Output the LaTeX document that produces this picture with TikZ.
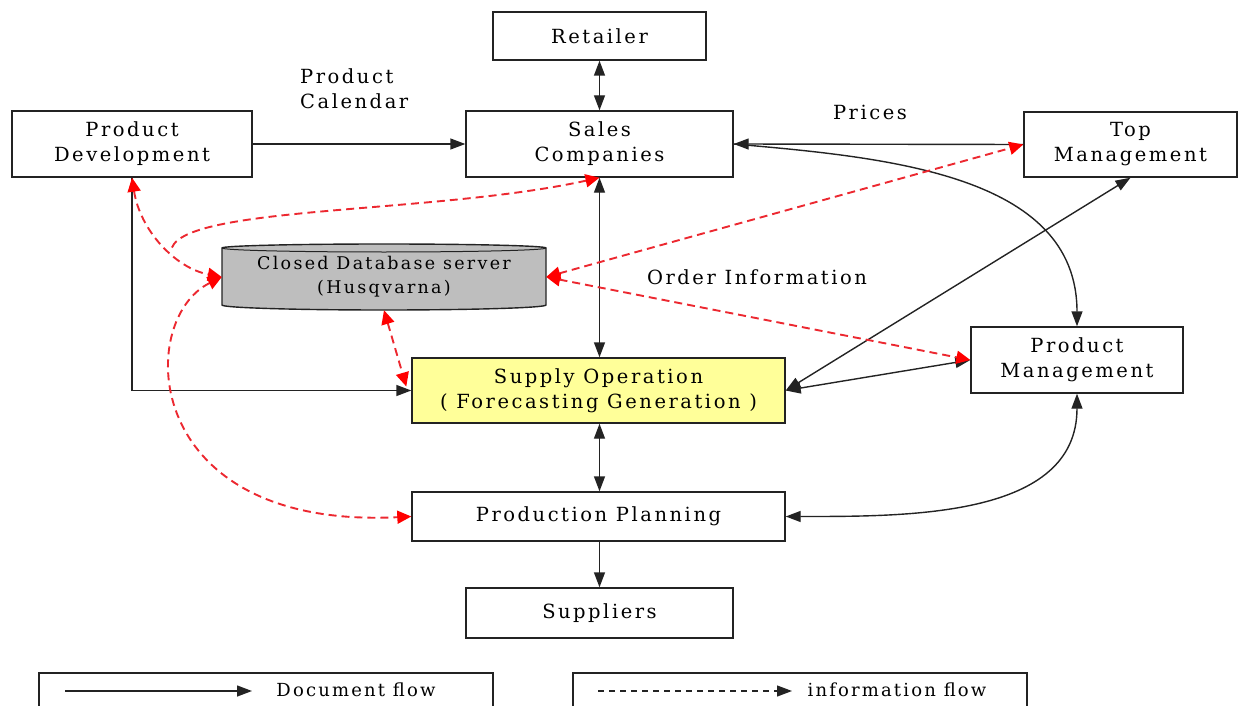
\documentclass[tikz,border=0pt]{standalone}
\usepackage{fontspec}
\setmainfont{DejaVu Serif}[LetterSpace=13]
\newfontfamily\legendfont{DejaVu Serif}[LetterSpace=12]
\usetikzlibrary{arrows.meta,calc}
\definecolor{infored}{RGB}{236,40,48}
\definecolor{tipred}{RGB}{255,0,0}
\definecolor{supplyyellow}{RGB}{255,255,153}
\definecolor{dbgray}{RGB}{190,190,190}
\definecolor{linegray}{RGB}{35,35,35}

\begin{document}
\begin{tikzpicture}[x=1pt,y=-1pt,
  font=\fontsize{19.5}{25}\selectfont,
  box/.style={draw=linegray, line width=1.4pt, rectangle, align=center, inner sep=0pt},
  label/.style={inner sep=0pt, align=left},
  doc/.style={draw=linegray, line width=1.4pt, -{Triangle[length=15pt,width=11pt]}},
  docboth/.style={draw=linegray, line width=1.4pt, {Triangle[length=15pt,width=11pt]}-{Triangle[length=15pt,width=11pt]}},
  info/.style={draw=infored, line width=1.9pt, dash pattern=on 8pt off 5pt},
  infoboth/.style={info, {Triangle[length=14pt,width=13pt,color=tipred]}-{Triangle[length=14pt,width=13pt,color=tipred]}},
  infostart/.style={info, {Triangle[length=14pt,width=13pt,color=tipred]}-},
  legendbox/.style={draw=linegray, line width=1.3pt},
  legendtext/.style={inner sep=0pt, font=\legendfont\fontsize{18}{22}\selectfont},
]
\useasboundingbox (0,0) rectangle (1248,706);

% ---- main blocks ----
\node[box, minimum width=213pt, minimum height=48pt] (ret) at (599.5,36) {Retailer};
\node[box, minimum width=267pt, minimum height=66pt] (sc) at (599.5,144) {Sales\\Companies};
\node[box, minimum width=240pt, minimum height=66pt] (pd) at (132,144) {Product\\Development};
\node[box, minimum width=213pt, minimum height=65pt] (tm) at (1130.5,144.5) {Top\\Management};
\node[box, fill=supplyyellow, minimum width=373pt, minimum height=65pt] (so) at (598.5,390.5)
  {Supply Operation\\( Forecasting Generation )};
\node[box, minimum width=212pt, minimum height=66pt] (pm) at (1077,360) {Product\\Management};
\node[box, minimum width=373pt, minimum height=49pt] (pp) at (598.5,516.5) {Production Planning};
\node[box, minimum width=267pt, minimum height=50pt] (sup) at (599.5,613) {Suppliers};

% ---- database cylinder ----
\draw[draw=linegray, line width=1.4pt, fill=dbgray]
  (222,248) -- (222,305) arc[start angle=180, end angle=360, x radius=162pt, y radius=5pt]
  -- (546,248) arc[start angle=0, end angle=180, x radius=162pt, y radius=4pt] -- cycle;
\draw[draw=linegray, line width=1pt]
  (222,248) arc[start angle=180, end angle=360, x radius=162pt, y radius=4pt];
\node[inner sep=0pt, align=center, minimum width=324pt, minimum height=66pt,
      font=\fontsize{17.5}{24}\selectfont] (db) at (384,277)
  {Closed Database server\\(Husqvarna)};

% ---- edge labels ----
\node[label, anchor=west] (calendar) at (300,89) {Product\\Calendar};
\node[label] (prices) at (870,112) {Prices};
\node[label] (orderinfo) at (757,277) {Order Information};

% ---- document flow ----
\draw[docboth] (ret.south) -- (sc.north);
\draw[doc] (pd.east) -- (sc.west);
\draw[doc] (tm.west) -- (sc.east);
\draw[doc] (sc.east) to[out=-5, in=90] (pm.north);
\draw[docboth] (sc.south) -- (sc.south |- so.north);
\draw[doc] (pd.south) |- (so.west);
\draw[docboth] (so.east) -- (tm.south);
\draw[docboth] (so.east) -- (pm.west);
\draw[docboth] (so.south -| sc.south) -- (pp.north -| sc.south);
\draw[docboth] (pp.east) to[out=0, in=-90] (pm.south);
\draw[doc] (pp.south -| sup.north) -- (sup.north);

% ---- information flow ----
\coordinate (jn) at (171,252);
\draw[infoboth] (pd.south) .. controls (140,230) and (175,268) .. (db.west);
\draw[infostart] (sc.south) .. controls (430,215) and (172,205) .. (jn);
\draw[infoboth] (db.west) .. controls (135,320) and (140,530) .. (pp.west);
\draw[infoboth] (db.south) -- ($(so.west)+(-5,-4)$);
\draw[infoboth] (db.east) -- (tm.west);
\draw[infoboth] (db.east) -- (pm.west);

% ---- legend ----
\draw[legendbox] (39,712) -- (39,673) -- (493,673) -- (493,712);
\draw[legendbox] (573,712) -- (573,673) -- (1027,673) -- (1027,712);
\coordinate (l1a) at (65,691);
\coordinate (l1b) at (252,691);
\coordinate (l2a) at (598,691);
\coordinate (l2b) at (792,691);
\draw[doc] (l1a) -- (l1b);
\draw[draw=linegray, line width=1.2pt, dash pattern=on 6pt off 5pt, -{Triangle[length=15pt,width=11pt]}] (l2a) -- (l2b);
\node[legendtext] (l1t) at (356,690) {Document flow};
\node[legendtext] (l2t) at (897,690) {information flow};
\end{tikzpicture}
\end{document}
